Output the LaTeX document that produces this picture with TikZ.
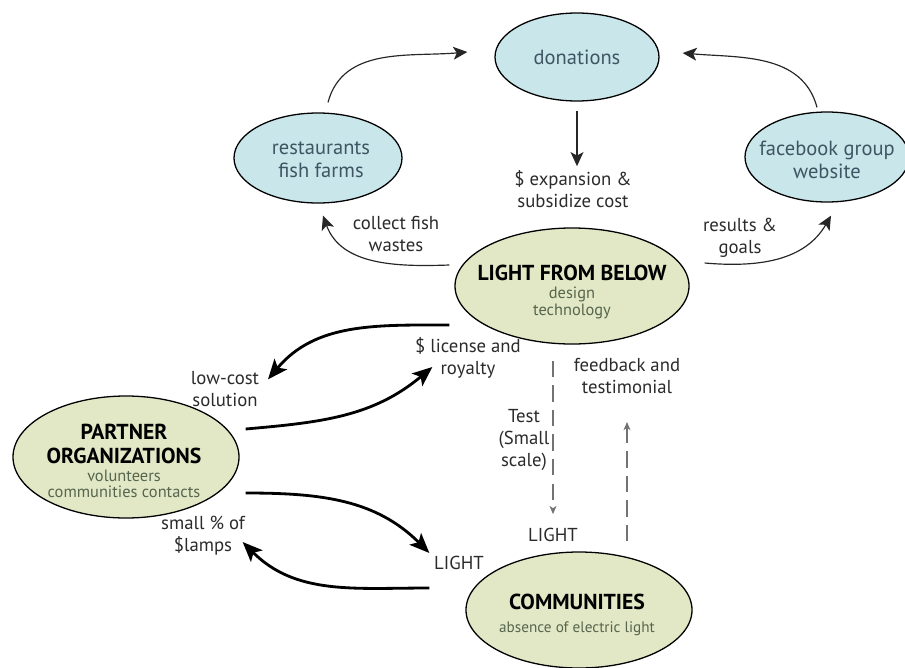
\documentclass[tikz,border=0pt]{standalone}
\usepackage{fontspec}
\setmainfont{PT Sans}
\usepackage{tikz}
\usetikzlibrary{arrows.meta}
\usetikzlibrary{shapes}

\definecolor{donblue}{HTML}{C9E6EB}
\definecolor{lfbgreen}{HTML}{E2E8C6}
\definecolor{bluetext}{HTML}{3E5663}
\definecolor{subtext}{HTML}{56654E}
\definecolor{labeltext}{HTML}{2B2B2B}

\newcommand{\lfbtitle}{\bfseries\fontsize{18.5}{20}\selectfont}
\newcommand{\lfbsub}{\color{subtext}\fontsize{14}{14}\selectfont}

\begin{document}
\begin{tikzpicture}
  [x=0.3mm,y=-0.3mm,
   font=\fontsize{16}{19}\selectfont,
   blue blob/.style={ellipse,draw,line width=1.1pt,fill=donblue,inner sep=0pt},
   green blob/.style={ellipse,draw,line width=1.1pt,fill=lfbgreen,inner sep=0pt},
   blue text/.style={align=center,text=bluetext,font=\fontsize{17.5}{20}\selectfont},
   green text/.style={align=center,font=\fontsize{14}{14}\selectfont},
   lbl/.style={align=center,text=labeltext},
   thin arrow/.style={-{Stealth[length=12pt,width=11pt,inset=3pt]},line width=1pt,draw=black!85},
   thick arrow/.style={-{Stealth[length=17pt,width=14pt,inset=4pt]},line width=2.4pt},
   dash arrow/.style={-{Stealth[length=7pt,width=6pt,inset=2pt]},line width=0.9pt,draw=black!55,dash pattern=on 14pt off 7pt}]
  \useasboundingbox (0,0) rectangle (905,667);

  \node[blue blob,minimum width=49.2mm,minimum height=26.4mm] (don) at (577,57) {};
  \node[blue text] (dontxt) at (577,57) {donations};
  \node[blue blob,minimum width=50.4mm,minimum height=27mm] (rest) at (318,158) {};
  \node[blue text] (resttxt) at (321,160) {restaurants\\fish farms};
  \node[blue blob,minimum width=49.2mm,minimum height=27mm] (fb) at (827,157) {};
  \node[blue text] (fbtxt) at (827,160) {facebook group\\website};

  \node[green blob,minimum width=70.2mm,minimum height=34.8mm] (lfb) at (572,286) {};
  \node[green text] (lfbtxt) at (572,292) {{\lfbtitle LIGHT FROM BELOW}\\[1.5pt]{\lfbsub design}\\{\lfbsub technology}};
  \node[green blob,minimum width=67.8mm,minimum height=36.6mm] (part) at (126,457) {};
  \node[green text] (parttxt) at (124,461) {{\lfbtitle PARTNER}\\[6pt]{\lfbtitle ORGANIZATIONS}\\[1.5pt]{\lfbsub volunteers}\\{\lfbsub communities contacts}};
  \node[green blob,minimum width=67.8mm,minimum height=34.8mm] (com) at (579,610) {};
  \node[green text] (comtxt) at (577,615) {{\lfbtitle COMMUNITIES}\\[5.5pt]{\lfbsub\fontsize{13}{14}\selectfont absence of electric light}};

  \node[lbl] (exp) at (573,189) {\$ expansion \&\\subsidize cost};
  \node[lbl] (collect) at (396,234) {collect fish\\wastes};
  \node[lbl] (results) at (740,238) {results \&\\goals};
  \node[lbl] (lowcost) at (225,389) {low-cost\\solution};
  \node[lbl] (license) at (468,358) {\$ license and\\royalty};
  \node[lbl] (lighta) at (459,563) {LIGHT};
  \node[lbl] (lamps) at (203,536) {small \% of\\\$lamps};
  \node[lbl] (test) at (524,440) {Test\\(Small\\scale)};
  \node[lbl] (lightb) at (553,535) {LIGHT};
  \node[lbl] (fback) at (627,376) {feedback and\\testimonial};

  \draw[thin arrow] ([shift={(10,-10)}]rest.north) to[out=75,in=185] ([shift={(-27,-5)}]don.west);
  \draw[thin arrow] ([shift={(-10,-4)}]fb.north) to[out=105,in=-5] ([shift={(23,-4)}]don.east);
  \draw[thin arrow,shorten <=8pt] (don.south) -- (don.south |- exp.north);
  \draw[thin arrow] ([shift={(-5,-21)}]lfb.west) to[out=182,in=-70] ([shift={(5,12)}]rest.south);
  \draw[thin arrow] ([shift={(15,-23)}]lfb.east) to[out=-5,in=-120] ([shift={(4,13)}]fb.south);

  \draw[thick arrow] ([shift={(-5,39)}]lfb.west) to[out=180,in=50] ([shift={(142,-16)}]part.north);
  \draw[thick arrow] ([shift={(6,-28)}]part.east) to[out=5,in=220] ([shift={(-22,81)}]lfb.west);
  \draw[thick arrow] ([shift={(6,36)}]part.east) to[out=0,in=135] ([shift={(-36,-57)}]com.west);
  \draw[thick arrow] ([shift={(-36,-22)}]com.west) to[out=180,in=-45] ([shift={(3,85)}]part.east);

  \draw[dash arrow] ([shift={(-19,16)}]lfb.south) -- ([shift={(0,-10)}]lightb.north);
  \draw[dash arrow] ([shift={(48,-10)}]com.north) -- ([shift={(0,24)}]fback.south);
\end{tikzpicture}
\end{document}
